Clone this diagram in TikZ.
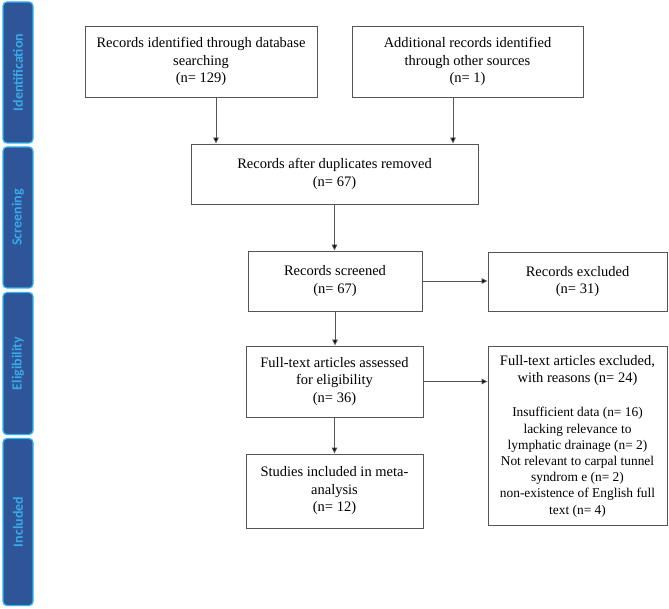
\documentclass[tikz,border=0pt]{standalone}
\usepackage{fontspec}
\setmainfont{Liberation Serif}
\newfontfamily\barfont{Carlito}
\usetikzlibrary{arrows.meta}
\definecolor{barfill}{HTML}{2E5597}
\definecolor{barline}{HTML}{2DB4EE}
\definecolor{bartext}{HTML}{3AA9E8}
\definecolor{boxline}{HTML}{555555}
\tikzset{
  box/.style={draw=boxline, line width=0.9pt, fill=white, align=center, inner sep=2pt,
    font=\fontsize{14.5}{17.5}\selectfont},
  listbox/.style={box, font=\fontsize{13.4}{16.2}\selectfont},
  stage/.style={draw=barline, line width=1.2pt, fill=barfill, rounded corners=4pt,
    minimum width=30pt},
  stagetext/.style={rotate=90, text=bartext, font=\barfont\bfseries\fontsize{14}{16}\selectfont},
  arr/.style={draw=boxline, line width=0.9pt, -{Triangle[length=6pt,width=5.5pt,fill=black]}},
}
\newcommand\ttl{\fontsize{14.5}{17.5}\selectfont}
\begin{document}
\begin{tikzpicture}[x=1pt,y=-1pt]
\useasboundingbox (0,0) rectangle (669,609);
% stage bars
\node[stage, minimum height=141pt] (s1) at (18,72.5) {};
\node[stagetext] (t1) at (s1.center) {Identification};
\node[stage, minimum height=141pt] (s2) at (18,217.5) {};
\node[stagetext] (t2) at (s2.center) {Screening};
\node[stage, minimum height=142pt] (s3) at (18,363.5) {};
\node[stagetext] (t3) at (s3.center) {Eligibility};
\node[stage, minimum height=167pt] (s4) at (18,522) {};
\node[stagetext] (t4) at (s4.center) {Included};
% boxes
\node[box, minimum width=232pt, minimum height=71pt] (b1) at (201,61.5)
  {Records identified through database\\searching\\(n= 129)};
\node[box, minimum width=231pt, minimum height=71pt] (b2) at (467.5,61.5)
  {Additional records identified\\through other sources\\(n= 1)};
\node[box, minimum width=287pt, minimum height=60pt] (b3) at (334.5,174)
  {Records after duplicates removed\\(n= 67)};
\node[box, minimum width=174pt, minimum height=60pt] (b4) at (335,281)
  {Records screened\\(n= 67)};
\node[box, minimum width=179pt, minimum height=59pt] (b5) at (577.5,281.5)
  {Records excluded\\(n= 31)};
\node[box, minimum width=177pt, minimum height=71pt] (b6) at (334.5,381.5)
  {Full-text articles assessed\\for eligibility\\(n= 36)};
\node[listbox, minimum width=179pt, minimum height=179pt] (b7) at (577.5,436)
  {{\ttl Full-text articles excluded,}\\[1.5pt]
   {\ttl with reasons (n= 24)}\\[18pt]
   Insufficient data (n= 16)\\
   lacking relevance to\\
   lymphatic drainage (n= 2)\\
   Not relevant to carpal tunnel\\
   syndrom e (n= 2)\\
   non-existence of English full\\
   text (n= 4)};
\node[box, minimum width=177pt, minimum height=74pt] (b8) at (334.5,491)
  {Studies included in meta-\\analysis\\(n= 12)};
% connectors
\draw[arr] ([xshift=15pt]b1.south) -- ([xshift=15pt]b1.south |- b3.north);
\draw[arr] ([xshift=-14.5pt]b2.south) -- ([xshift=-14.5pt]b2.south |- b3.north);
\draw[arr] (b3.south) -- (b3.south |- b4.north);
\draw[arr] (b4.east) -- (b4.east -| b5.west);
\draw[arr] (b4.south) -- (b4.south |- b6.north);
\draw[arr] (b6.east) -- (b6.east -| b7.west);
\draw[arr] (b6.south) -- (b6.south |- b8.north);
\end{tikzpicture}
\end{document}
